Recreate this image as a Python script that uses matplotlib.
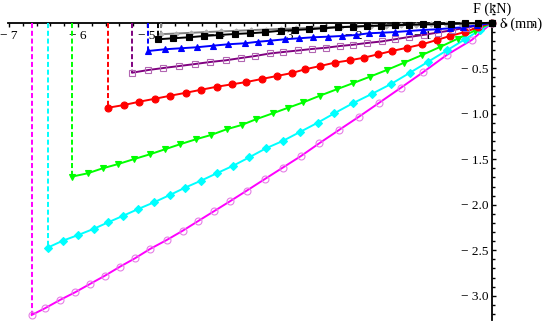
import matplotlib
matplotlib.use("Agg")
import matplotlib.pyplot as plt
from matplotlib.ticker import FixedLocator, MultipleLocator

plt.rcParams['font.family'] = ['Liberation Serif', 'DejaVu Serif']

# ---- data (displacement delta in mm, force F in kN) ----
mag_x = [-6.671, -6.478, -6.261, -6.043, -5.826, -5.609, -5.391, -5.174, -4.957, -4.714,
         -4.482, -4.257, -4.023, -3.790, -3.555, -3.290, -3.033, -2.768, -2.503, -2.217,
         -1.928, -1.633, -1.319, -1.000, -0.657, -0.294, 0.0]
mag_y = [-3.211, -3.137, -3.046, -2.962, -2.870, -2.779, -2.680, -2.588, -2.486, -2.387,
         -2.285, -2.178, -2.068, -1.958, -1.845, -1.716, -1.592, -1.464, -1.324, -1.178,
         -1.032, -0.878, -0.713, -0.544, -0.354, -0.189, 0.0]

cya_x = [-6.439, -6.222, -5.996, -5.768, -5.561, -5.343, -5.126, -4.899, -4.667, -4.449,
         -4.217, -3.990, -3.749, -3.517, -3.275, -3.033, -2.783, -2.526, -2.286, -2.019,
         -1.743, -1.464, -1.188, -0.923, -0.652, -0.391, -0.174, 0.0]
cya_y = [-2.471, -2.395, -2.332, -2.263, -2.192, -2.120, -2.046, -1.973, -1.892, -1.812,
         -1.735, -1.654, -1.570, -1.478, -1.379, -1.299, -1.200, -1.098, -0.995, -0.885,
         -0.782, -0.673, -0.548, -0.427, -0.302, -0.181, -0.080, 0.0]

grn_x = [-6.091, -5.859, -5.642, -5.416, -5.184, -4.957, -4.739, -4.522, -4.290, -4.072,
         -3.845, -3.628, -3.420, -3.178, -2.952, -2.735, -2.493, -2.251, -2.019, -1.768,
         -1.526, -1.271, -1.014, -0.754, -0.493, -0.246, 0.0]
grn_y = [-1.691, -1.654, -1.599, -1.552, -1.497, -1.445, -1.390, -1.335, -1.280, -1.233,
         -1.170, -1.123, -1.060, -0.995, -0.933, -0.874, -0.801, -0.731, -0.665, -0.592,
         -0.519, -0.438, -0.354, -0.266, -0.173, -0.085, 0.0]

red_x = [-5.56, -5.33, -5.11, -4.88, -4.66, -4.43, -4.21, -3.99, -3.77, -3.56,
         -3.34, -3.12, -2.90, -2.71, -2.49, -2.28, -2.06, -1.86, -1.65, -1.45,
         -1.23, -1.01, -0.80, -0.61, -0.39, -0.20, 0.0]
red_y = [-0.933, -0.903, -0.867, -0.834, -0.801, -0.768, -0.735, -0.703, -0.676, -0.651,
         -0.618, -0.585, -0.552, -0.511, -0.475, -0.438, -0.412, -0.384, -0.346, -0.310,
         -0.274, -0.236, -0.189, -0.145, -0.101, -0.049, 0.0]

pur_x = [-5.213, -4.981, -4.764, -4.532, -4.304, -4.087, -3.855, -3.638, -3.435, -3.217,
         -3.025, -2.807, -2.613, -2.406, -2.203, -2.014, -1.812, -1.599, -1.406, -1.203,
         -0.986, -0.783, -0.580, -0.377, -0.188, 0.0]
pur_y = [-0.548, -0.519, -0.497, -0.475, -0.453, -0.431, -0.412, -0.387, -0.365, -0.337,
         -0.321, -0.304, -0.288, -0.274, -0.255, -0.241, -0.222, -0.205, -0.181, -0.156,
         -0.132, -0.107, -0.081, -0.055, -0.027, 0.0]

blu_x = [-4.986, -4.739, -4.512, -4.280, -4.048, -3.822, -3.580, -3.387, -3.217, -3.000,
         -2.793, -2.590, -2.381, -2.178, -1.971, -1.783, -1.594, -1.406, -1.203, -0.996,
         -0.793, -0.609, -0.416, -0.217, 0.0]
blu_y = [-0.310, -0.291, -0.280, -0.269, -0.252, -0.236, -0.225, -0.208, -0.197, -0.181,
         -0.170, -0.159, -0.153, -0.145, -0.134, -0.115, -0.109, -0.102, -0.090, -0.079,
         -0.071, -0.060, -0.049, -0.027, 0.0]

blk_x = [-4.836, -4.619, -4.387, -4.174, -3.952, -3.725, -3.507, -3.290, -3.062, -2.855,
         -2.648, -2.445, -2.228, -2.019, -1.816, -1.609, -1.406, -1.203, -1.000, -0.797,
         -0.594, -0.391, -0.203, 0.0]
blk_y = [-0.181, -0.170, -0.159, -0.145, -0.134, -0.123, -0.115, -0.104, -0.087, -0.079,
         -0.071, -0.060, -0.049, -0.043, -0.035, -0.030, -0.026, -0.022, -0.018, -0.014,
         -0.011, -0.007, -0.004, 0.0]

gry_x = [-4.797, -4.580, -4.362, -4.145, -3.928, -3.710, -3.493, -3.275, -3.058, -2.841,
         -2.623, -2.406, -2.188, -1.971, -1.754, -1.536, -1.319, -1.101, -0.884, -0.667,
         -0.449, -0.232, 0.0]
gry_y = [-0.125, -0.118, -0.110, -0.102, -0.095, -0.088, -0.081, -0.074, -0.068, -0.062,
         -0.056, -0.050, -0.045, -0.040, -0.035, -0.030, -0.026, -0.021, -0.017, -0.013,
         -0.009, -0.005, 0.0]

x_ticks = [-7, -6, -5, -4, -3, -2, -1]
x_tick_labels = ['\u2212 7', '\u2212 6', '\u2212 5', '\u2212 4', '\u2212 3', '\u2212 2', '\u2212 1']
y_ticks = [-0.5, -1.0, -1.5, -2.0, -2.5, -3.0]
y_tick_labels = ['\u2212 0.5', '\u2212 1.0', '\u2212 1.5', '\u2212 2.0', '\u2212 2.5', '\u2212 3.0']

series = [
    # x, y, line colour, marker, face, edge, size
    (mag_x, mag_y, '#ff00ff', 'o', 'none', '#e57fe5', 5.0),
    (cya_x, cya_y, '#00ffff', 'D', '#00ffff', '#00ffff', 3.6),
    (grn_x, grn_y, '#00ff00', 'v', '#00ff00', '#00ff00', 4.6),
    (red_x, red_y, '#ff0000', 'o', '#ff0000', '#ff0000', 5.0),
    (pur_x, pur_y, '#800080', 's', 'none', '#b266b2', 4.3),
    (blu_x, blu_y, '#0000ff', '^', '#0000ff', '#0000ff', 4.6),
    (gry_x, gry_y, '#808080', 'D', '#b0b0b0', '#b0b0b0', 2.6),
    (blk_x, blk_y, '#000000', 's', '#000000', '#000000', 4.3),
]

fig = plt.figure(figsize=(5.45, 3.23), dpi=100)
ax = fig.add_axes([0, 0, 1, 1])
ax.set_facecolor('white')

for i, (xs, ys, col, mk, fc, ec, ms) in enumerate(series):
    ax.plot([xs[0], xs[0]], [0, ys[0]], color=col, lw=1.4, dashes=(2.6, 1.4),
            zorder=3 + i * 0.1, solid_capstyle='butt')
    ax.plot(xs, ys, color=col, lw=1.4, marker=mk, markersize=ms,
            markerfacecolor=fc, markeredgecolor=ec, markeredgewidth=0.8,
            zorder=3 + i * 0.1)

ax.set_xlim(-7.130, 0.768)
ax.set_ylim(-3.299, 0.2505)

for s in ['top', 'right']:
    ax.spines[s].set_visible(False)
ax.spines['bottom'].set_position(('data', 0))
ax.spines['left'].set_position(('data', 0))
ax.spines['bottom'].set_bounds(-7.02, 0)
ax.spines['left'].set_bounds(-3.27, 0.03)
ax.spines['bottom'].set_linewidth(1.3)
ax.spines['left'].set_linewidth(1.3)
ax.spines['bottom'].set_zorder(2)
ax.spines['left'].set_zorder(2)

ax.xaxis.set_major_locator(FixedLocator(x_ticks))
ax.set_xticklabels(x_tick_labels)
ax.xaxis.set_minor_locator(MultipleLocator(0.2))
ax.yaxis.set_major_locator(FixedLocator(y_ticks))
ax.set_yticklabels(y_tick_labels)
ax.yaxis.set_minor_locator(MultipleLocator(0.1))

ax.tick_params(axis='x', which='major', direction='out', length=3.2, width=1.0,
               labelsize=9.6, pad=2.0)
ax.tick_params(axis='x', which='minor', direction='out', length=2.0, width=1.0)
ax.tick_params(axis='y', which='major', direction='in', length=3.2, width=1.0,
               labelsize=9.6, pad=2.5)
ax.tick_params(axis='y', which='minor', direction='in', length=2.0, width=1.0)
ax.xaxis.set_zorder(1)
ax.yaxis.set_zorder(1)

ax.text(0.0, 0.145, 'F (kN)', ha='center', va='center', fontsize=10.2, zorder=5)
ax.text(0.115, -0.012, '\u03b4 (mm)', ha='left', va='center', fontsize=10.4, zorder=5)

fig.savefig('out.png', dpi=100, facecolor='white')
